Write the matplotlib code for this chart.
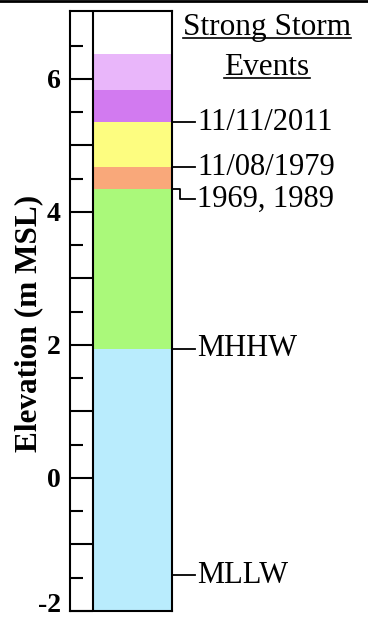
import matplotlib
matplotlib.use("Agg")
import matplotlib.pyplot as plt
from matplotlib.lines import Line2D
import matplotlib.transforms as mtransforms

plt.rcParams['font.family'] = ['Liberation Serif', 'DejaVu Serif']
plt.rcParams['axes.unicode_minus'] = False

# elevation bands (m MSL), bottom to top
band_bottoms = [-2.0, 1.94, 4.35, 4.67, 5.35, 5.83]
band_tops = [1.94, 4.35, 4.67, 5.35, 5.83, 6.38]
band_colors = ['#b9ecfd', '#aaf97a', '#f9a87a', '#fdfd80', '#d27af0', '#e9b6fa']

# labelled levels on the right side
event_labels = ['11/11/2011', '11/08/1979', '1969, 1989', 'MHHW', 'MLLW']
event_levels = [5.35, 4.67, 4.35, 1.94, -1.46]
event_text_levels = [5.35, 4.67, 4.19, 1.94, -1.46]

major_ticks = [-2, -1, 0, 1, 2, 3, 4, 5, 6]
tick_labels = ['-2', '', '0', '', '2', '', '4', '', '6']
minor_ticks = [-1.5, -0.5, 0.5, 1.5, 2.5, 3.5, 4.5, 5.5, 6.5]

fig = plt.figure(figsize=(3.68, 6.21), dpi=100)
ax = fig.add_axes([70 / 368, 10 / 621, 102 / 368, 600 / 621])

strip = 23 / 102  # width of the tick strip on the left
for b, t, c in zip(band_bottoms, band_tops, band_colors):
    ax.bar(strip, t - b, bottom=b, width=1 - strip, align='edge', color=c,
           edgecolor='none')
ax.axvline(strip, color='black', lw=1.5)

ax.set_xlim(0, 1)
ax.set_ylim(-2, 7.02)
ax.set_xticks([])
ax.set_yticks(major_ticks)
ax.set_yticks(minor_ticks, minor=True)
ax.tick_params(axis='y', which='major', direction='in', length=16.6, width=1.5,
               pad=6.5)
ax.tick_params(axis='y', which='minor', direction='in', length=9.4, width=1.5)
ax.set_yticklabels(tick_labels, fontsize=20, fontweight='bold')
# lift the bottom label so it sits above the figure edge
lift = mtransforms.ScaledTranslation(0, 8 / 100, fig.dpi_scale_trans)
bottom_lab = ax.get_yticklabels()[0]
bottom_lab.set_transform(bottom_lab.get_transform() + lift)
for sp in ax.spines.values():
    sp.set_linewidth(1.5)

ax.set_ylabel('Elevation (m MSL)', fontsize=22.5, fontweight='bold')
ax.yaxis.set_label_coords(-0.265, 0.48)

# leader lines and labels
trans = mtransforms.blended_transform_factory(ax.transAxes, ax.transData)
x_end = 1 + 23 / 102
for lab, lvl, tlvl in zip(event_labels, event_levels, event_text_levels):
    if tlvl == lvl:
        xs, ys = [1, x_end], [lvl, lvl]
    else:
        x_mid = 1 + 8 / 102
        xs, ys = [1, x_mid, x_mid, x_end], [lvl, lvl, tlvl, tlvl]
    ax.plot(xs, ys, color='black', lw=1.3, transform=trans, clip_on=False)
    ax.text(x_end + 0.02, tlvl, lab, transform=trans, fontsize=22,
            va='center', ha='left')

# underlined heading
heading = []
for txt, yb in [('Strong Storm', 1 - 35 / 621), ('Events', 1 - 75 / 621)]:
    heading.append(fig.text(267 / 368, yb, txt, fontsize=22.5, ha='center',
                            va='baseline'))
fig.canvas.draw()
renderer = fig.canvas.get_renderer()
for h in heading:
    bb = h.get_window_extent(renderer).transformed(fig.transFigure.inverted())
    x0, y0 = h.get_position()
    uy = y0 - 3 / 621
    fig.add_artist(Line2D([bb.x0, bb.x1], [uy, uy], color='black', lw=1.2))

# frame line along the top edge
fig.add_artist(Line2D([0, 1], [1 - 1 / 621, 1 - 1 / 621], color='black', lw=2))

fig.savefig('out.png', dpi=100)
